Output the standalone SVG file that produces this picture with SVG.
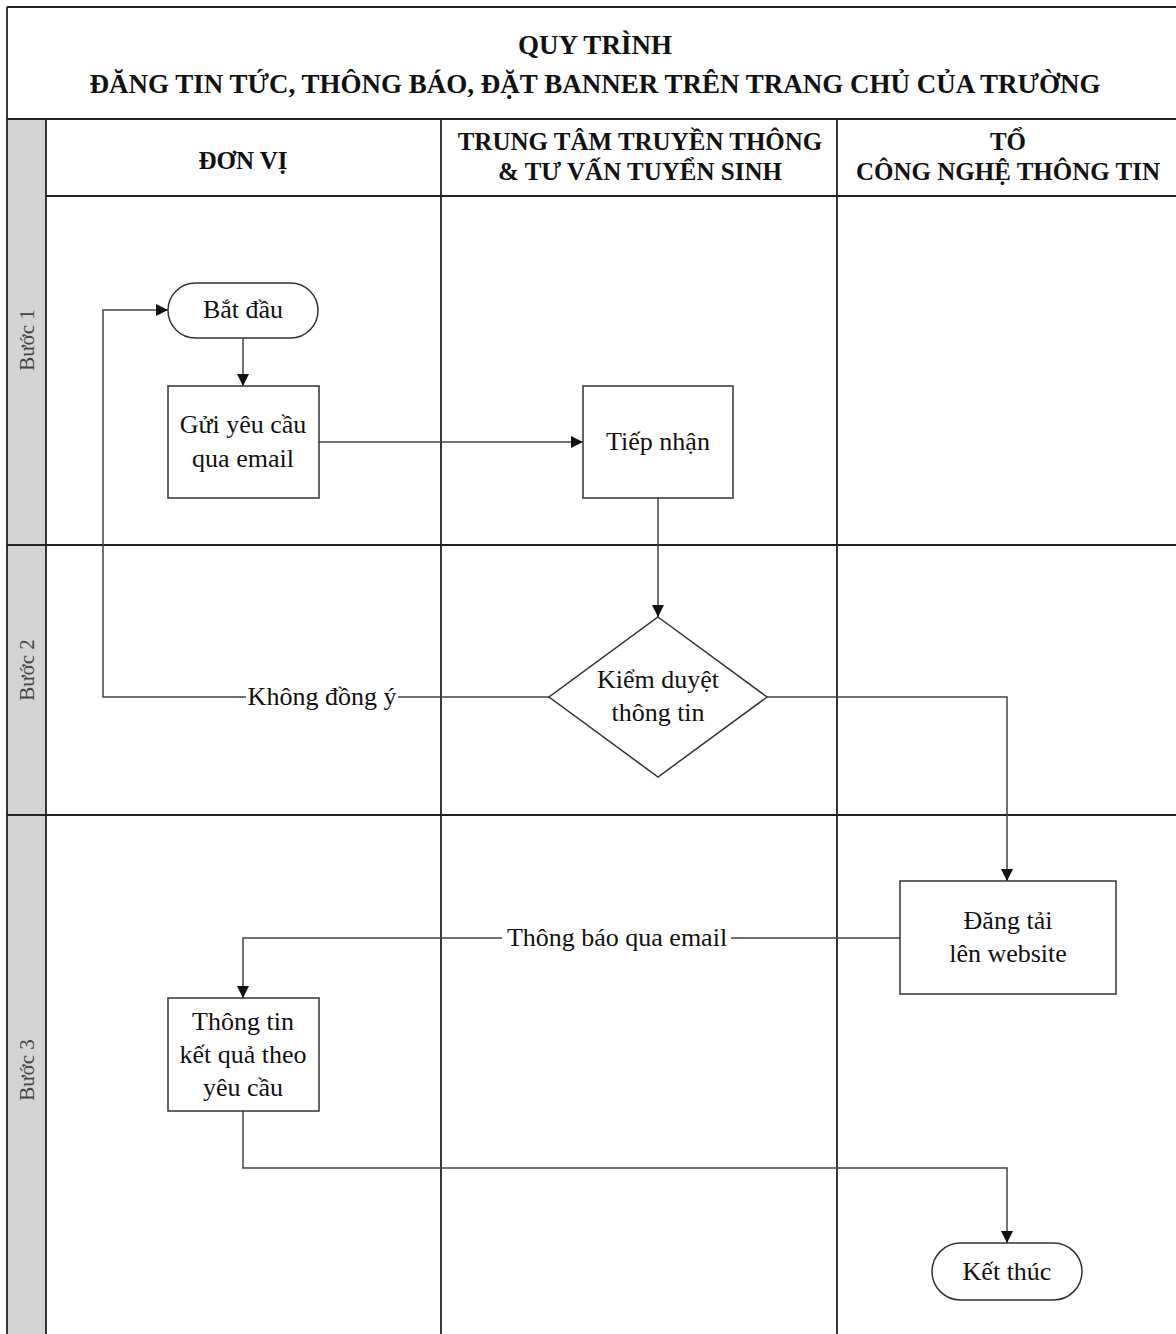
<svg xmlns="http://www.w3.org/2000/svg" width="1176" height="1334" viewBox="0 0 1176 1334">
<style>
.grid{stroke:#222;stroke-width:1.8;fill:none}
.node{fill:#fff;stroke:#333;stroke-width:1.5}
.edge{fill:none;stroke:#444;stroke-width:1.5}
.t{font-family:"Liberation Serif","Times New Roman","DejaVu Serif",serif;fill:#111;text-anchor:middle}
.title{font-size:27px;font-weight:bold}
.head{font-size:25px;font-weight:bold}
.lbl{font-size:26px}
.side{font-size:21px;fill:#444}
</style>
<defs>
<marker id="arr" viewBox="0 0 10 10" refX="10" refY="5" markerWidth="12" markerHeight="12" markerUnits="userSpaceOnUse" orient="auto">
<path d="M0,0 L10,5 L0,10 z" fill="#111"/>
</marker>
</defs>
<rect x="0" y="0" width="1176" height="1334" fill="#fff"/>
<g id="frame">
<rect x="7" y="119" width="39" height="1215" fill="#d4d4d4"/>
<path class="grid" d="M7,7 H1176 M7,7 V1334 M7,119 H1176 M46,196 H1176 M7,545 H1176 M7,815 H1176 M46,119 V1334 M441,119 V1334 M837,119 V1334"/>
<text class="t title" x="595" y="54">QUY TRÌNH</text>
<text class="t title" x="595" y="93">ĐĂNG TIN TỨC, THÔNG BÁO, ĐẶT BANNER TRÊN TRANG CHỦ CỦA TRƯỜNG</text>
<text class="t head" x="243" y="169">ĐƠN VỊ</text>
<text class="t head" x="640" y="150">TRUNG TÂM TRUYỀN THÔNG</text>
<text class="t head" x="640" y="180">&amp; TƯ VẤN TUYỂN SINH</text>
<text class="t head" x="1008" y="150">TỔ</text>
<text class="t head" x="1008" y="180">CÔNG NGHỆ THÔNG TIN</text>
<text class="t side" transform="translate(34,340) rotate(-90)">Bước 1</text>
<text class="t side" transform="translate(34,670) rotate(-90)">Bước 2</text>
<text class="t side" transform="translate(34,1070) rotate(-90)">Bước 3</text>
</g>
<g id="connectors">
<path class="edge" d="M243,338 V386" marker-end="url(#arr)"/>
<path class="edge" d="M319,442 H583" marker-end="url(#arr)"/>
<path class="edge" d="M658,498 V617" marker-end="url(#arr)"/>
<path class="edge" d="M549,697 H103 V310 H168" marker-end="url(#arr)"/>
<path class="edge" d="M767,697 H1007 V881" marker-end="url(#arr)"/>
<path class="edge" d="M900,938 H243 V998" marker-end="url(#arr)"/>
<path class="edge" d="M243,1111 V1168 H1007 V1243" marker-end="url(#arr)"/>
<rect x="246" y="682" width="152" height="30" fill="#fff"/>
<text class="t lbl" x="322" y="705">Không đồng ý</text>
<rect x="502" y="923" width="229" height="30" fill="#fff"/>
<text class="t lbl" x="617" y="946">Thông báo qua email</text>
</g>
<g id="n-start">
<rect class="node" x="168" y="283" width="150" height="55" rx="27.5"/>
<text class="t lbl" x="243" y="318">Bắt đầu</text>
</g>
<g id="n-send">
<rect class="node" x="168" y="386" width="151" height="112"/>
<text class="t lbl" x="243" y="433">Gửi yêu cầu</text>
<text class="t lbl" x="243" y="467">qua email</text>
</g>
<g id="n-receive">
<rect class="node" x="583" y="386" width="150" height="112"/>
<text class="t lbl" x="658" y="450">Tiếp nhận</text>
</g>
<g id="n-review">
<polygon class="node" points="658,617 767,697 658,777 549,697"/>
<text class="t lbl" x="658" y="688">Kiểm duyệt</text>
<text class="t lbl" x="658" y="721">thông tin</text>
</g>
<g id="n-publish">
<rect class="node" x="900" y="881" width="216" height="113"/>
<text class="t lbl" x="1008" y="929">Đăng tải</text>
<text class="t lbl" x="1008" y="962">lên website</text>
</g>
<g id="n-result">
<rect class="node" x="168" y="998" width="151" height="113"/>
<text class="t lbl" x="243" y="1030">Thông tin</text>
<text class="t lbl" x="243" y="1063">kết quả theo</text>
<text class="t lbl" x="243" y="1096">yêu cầu</text>
</g>
<g id="n-end">
<rect class="node" x="932" y="1243" width="150" height="57" rx="28.5"/>
<text class="t lbl" x="1007" y="1280">Kết thúc</text>
</g>
</svg>
